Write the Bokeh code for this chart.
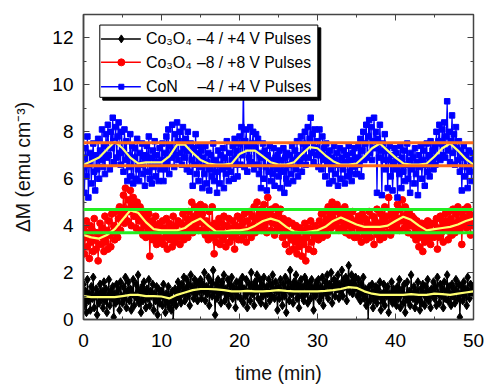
from bokeh.plotting import figure
from bokeh.models import Range1d, LinearAxis, SingleIntervalTicker, Span, CustomJSTickFormatter
from bokeh.core.properties import value
from bokeh.embed import file_html
from bokeh.resources import INLINE

# ---------------- data ----------------
con_4v = [
    6.9, 5.4, 7.3, 6.1, 7.8, 5.2, 6.6, 7.1, 5.8, 6.9, 7.5, 6.3, 5.5, 7.0, 6.4, 7.7, 6.0, 7.2, 6.8, 8.1,
    6.5, 7.4, 6.2, 7.9, 6.9, 8.3, 7.0, 6.4, 8.0, 7.3, 8.6, 6.7, 7.6, 8.2, 6.9, 7.8, 8.4, 7.1, 6.6, 8.0,
    7.2, 6.3, 8.1, 6.8, 7.6, 5.9, 7.0, 6.5, 7.9, 6.1, 7.4, 5.8, 6.9, 7.3, 6.0, 7.7, 6.4, 5.9, 7.1, 6.6,
    7.5, 6.2, 7.0, 5.7, 6.8, 7.4, 6.3, 7.8, 6.0, 6.9, 5.8, 7.2, 6.5, 7.6, 6.1, 7.0, 6.7, 5.9, 7.3, 6.4,
    6.8, 7.5, 5.9, 7.1, 6.4, 7.8, 6.7, 8.1, 6.2, 7.4, 6.9, 8.3, 7.2, 6.5, 7.9, 7.0, 8.4, 6.8, 7.6, 8.0,
    7.1, 6.6, 8.2, 7.3, 6.9, 7.7, 6.4, 8.0, 7.2, 6.3, 7.5, 6.8, 5.7, 7.3, 6.6, 7.9, 6.2, 7.1, 5.9, 7.4,
    6.5, 7.2, 5.6, 6.9, 6.2, 7.4, 5.8, 6.7, 7.1, 5.5, 6.4, 7.0, 6.1, 7.5, 5.9, 6.8, 6.3, 5.4, 7.2, 6.6,
    5.8, 7.0, 6.4, 7.3, 5.6, 6.9, 6.2, 7.6, 6.5, 5.9, 7.1, 6.3, 6.8, 7.4, 6.0, 7.7, 6.6, 7.2, 6.1, 7.5,
    7.8, 6.6, 8.2, 7.0, 10.2, 6.5, 7.6, 8.1, 6.3, 7.4, 6.9, 8.2, 6.7, 7.5, 8.0, 6.4, 7.3, 7.9, 6.6, 7.7,
    6.2, 7.1, 5.6, 6.9, 7.5, 6.0, 7.2, 6.5, 5.5, 7.0, 6.3, 7.4, 5.9, 6.8, 6.2, 7.3, 5.7, 6.9, 6.4, 7.0,
    6.1, 7.2, 5.6, 6.8, 6.3, 7.3, 5.4, 6.9, 6.0, 7.1, 5.8, 6.6, 7.0, 6.2, 7.4, 5.9, 6.8, 7.2, 6.4, 7.6,
    6.1, 7.0, 6.7, 7.8, 6.3, 7.5, 6.9, 8.0, 6.6, 7.4, 8.2, 6.9, 7.7, 8.6, 7.1, 7.9, 6.7, 8.1, 7.3, 7.0,
    7.6, 6.5, 8.1, 7.0, 6.4, 7.8, 6.8, 7.3, 6.1, 7.5, 6.7, 7.0, 5.8, 7.2, 6.4, 6.9, 5.9, 7.4, 6.2, 6.8,
    7.1, 5.7, 6.6, 7.3, 6.0, 6.9, 6.4, 7.2, 5.8, 6.7, 7.0, 6.1, 7.4, 6.3, 6.8, 5.9, 7.1, 6.5, 7.3, 6.2,
    6.9, 6.2, 7.4, 6.6, 7.7, 6.1, 7.2, 8.0, 6.8, 7.5, 8.3, 6.9, 7.8, 8.5, 7.1, 8.2, 6.8, 7.6, 8.6, 7.3,
    8.0, 5.4, 7.7, 6.9, 8.3, 7.2, 5.3, 7.5, 6.8, 7.9, 6.4, 7.2, 5.6, 6.8, 7.4, 6.1, 7.0, 5.5, 6.7, 7.3,
    6.4, 7.1, 5.2, 6.8, 6.2, 7.4, 5.6, 6.9, 6.3, 7.2, 5.9, 6.6, 7.5, 6.0, 6.8, 5.4, 7.1, 6.4, 6.9, 5.8,
    7.3, 6.2, 6.7, 5.3, 7.0, 6.5, 7.4, 6.0, 6.8, 7.2, 5.7, 6.6, 7.5, 6.3, 7.0, 6.1, 7.6, 6.7, 7.2, 6.4,
    7.4, 6.6, 8.0, 6.9, 7.6, 8.3, 6.8, 7.5, 8.1, 7.0, 8.4, 6.9, 7.8, 9.3, 7.2, 8.0, 6.7, 7.6, 8.7, 7.1,
    7.9, 6.6, 8.2, 7.3, 6.8, 7.6, 6.3, 7.2, 5.5, 6.9, 7.4, 6.1, 7.0, 6.5, 5.6, 7.2, 6.3, 6.8, 5.9, 7.1,
    6.8,
]

co3o4_8v = [
    3.9, 2.8, 3.5, 4.2, 3.1, 3.7, 2.6, 4.0, 3.3, 3.8, 2.9, 4.3, 3.4, 3.0, 3.7, 2.5, 3.6, 4.1, 3.2, 3.9,
    3.5, 2.9, 4.4, 3.3, 3.8, 3.0, 4.2, 3.6, 3.1, 4.5, 3.7, 4.0, 3.4, 4.6, 3.9, 3.5, 4.3, 4.8, 3.8, 4.4,
    4.5, 5.3, 4.1, 5.6, 4.7, 4.2, 5.1, 4.6, 5.5, 4.0, 4.9, 5.2, 4.4, 4.8, 3.9, 5.0, 4.5, 4.2, 4.8, 3.8,
    4.4, 3.6, 4.6, 4.0, 3.5, 4.3, 3.7, 4.5, 2.7, 3.9, 4.2, 3.4, 4.0, 3.6, 4.4, 3.2, 3.9, 3.5, 4.1, 3.3,
    3.8, 4.2, 3.2, 3.9, 3.5, 4.3, 3.0, 3.7, 4.1, 3.4, 3.9, 3.1, 4.4, 3.6, 3.3, 4.0, 3.5, 4.2, 3.7, 3.2,
    4.1, 3.6, 4.5, 3.4, 4.0, 3.8, 4.3, 3.5, 4.6, 3.9, 4.2, 5.0, 3.7, 4.4, 3.9, 4.8, 4.1, 4.6, 3.8, 4.3,
    4.9, 3.8, 4.5, 4.1, 4.8, 3.6, 4.2, 3.9, 3.4, 4.6, 4.0, 3.5, 4.8, 3.7, 2.8, 4.1, 3.3, 3.9, 3.6, 4.3,
    3.2, 3.8, 4.1, 3.4, 4.4, 3.6, 3.1, 4.0, 3.7, 4.3, 3.3, 3.9, 3.5, 4.2, 3.6, 3.0, 4.0, 3.7, 4.4, 3.4,
    3.9, 4.3, 3.4, 4.1, 3.6, 4.5, 3.8, 3.3, 4.2, 3.7, 4.6, 3.9, 3.5, 4.4, 4.0, 4.8, 3.7, 4.3, 5.0, 3.9,
    4.5, 4.1, 4.7, 3.8, 4.4, 4.9, 4.0, 4.6, 3.7, 5.2, 4.2, 4.5, 3.8, 4.7, 4.1, 4.4, 3.6, 4.8, 4.2, 3.9,
    4.5, 3.8, 4.7, 4.1, 3.5, 4.3, 3.9, 3.2, 4.0, 3.6, 4.2, 2.9, 3.7, 3.4, 4.1, 3.0, 3.8, 3.3, 4.0, 2.8,
    3.6, 3.1, 3.9, 3.4, 2.7, 3.8, 3.2, 4.1, 2.5, 3.5, 3.9, 3.0, 3.7, 4.2, 3.3, 3.8, 2.9, 4.0, 3.5, 3.7,
    3.9, 3.4, 4.2, 3.7, 4.5, 3.5, 4.0, 4.6, 3.8, 4.3, 3.6, 4.8, 4.1, 4.5, 3.9, 5.0, 4.3, 4.7, 4.0, 4.6,
    4.9, 4.2, 3.8, 4.7, 4.4, 3.9, 4.6, 4.1, 4.8, 3.7, 4.4, 4.0, 4.5, 3.6, 4.3, 3.9, 4.6, 4.1, 3.5, 4.2,
    4.0, 3.5, 4.4, 3.8, 4.2, 3.3, 4.5, 3.9, 3.6, 4.3, 3.4, 4.1, 3.7, 4.6, 3.5, 4.0, 3.8, 4.4, 3.2, 4.2,
    3.9, 4.7, 3.6, 4.1, 3.4, 4.5, 3.8, 4.3, 3.5, 4.8, 4.0, 4.4, 3.7, 5.2, 4.1, 3.6, 4.5, 3.9, 4.3, 3.8,
    4.6, 4.0, 4.9, 4.3, 3.8, 4.7, 4.2, 5.1, 4.4, 3.9, 4.8, 4.1, 4.5, 3.7, 4.6, 4.2, 4.0, 4.4, 3.6, 4.3,
    3.9, 3.4, 4.2, 3.7, 3.1, 4.0, 3.5, 4.1, 2.9, 3.8, 3.3, 4.0, 3.6, 4.2, 3.4, 3.9, 3.2, 4.1, 3.7, 3.5,
    4.1, 3.6, 4.3, 3.0, 3.9, 3.5, 4.4, 3.7, 4.2, 3.3, 4.0, 4.5, 3.8, 4.2, 3.4, 4.6, 3.9, 4.3, 3.6, 4.7,
    4.1, 3.7, 4.5, 3.9, 4.8, 4.2, 3.8, 4.6, 3.2, 4.4, 4.0, 4.7, 4.3, 3.9, 4.8, 4.1, 4.5, 3.6, 4.4, 4.0,
    4.3,
]

co3o4_4v = [
    1.5, 0.6, 1.2, 0.3, 1.7, 0.8, 1.1, 0.4, 1.4, 0.9, 1.8, 0.5, 1.0, 1.3, 0.2, 1.1, 0.7, 1.5, 0.9, 1.2,
    0.5, 1.6, 0.8, 1.3, 0.3, 1.0, 1.7, 0.6, 1.2, 0.9, 1.4, 0.1, 1.1, 0.7, 1.5, 0.8, 1.3, 0.4, 1.6, 1.0,
    0.7, 1.4, 0.9, 1.8, 0.5, 1.2, 1.6, 0.8, 1.3, 0.4, 1.1, 1.7, 0.6, 1.0, 1.5, 0.9, 1.9, 0.7, 1.2, 0.3,
    1.4, 0.8, 1.6, 1.1, 0.5, 1.3, 0.9, 1.7, 0.6, 1.2, 1.0, 1.5, 0.4, 1.1, 0.8, 1.4, 0.2, 1.3, 0.7, 1.0,
    1.2, 0.6, 1.5, 0.9, 0.3, 1.1, 0.7, 1.4, 0.5, 1.0, 0.4, 1.2, -0.1, 0.8, 1.3, 0.6, 1.1, 1.6, 0.9, 1.4,
    0.7, 1.5, 1.1, 1.8, 0.8, 1.3, 1.7, 1.0, 1.5, 0.6, 1.9, 1.2, 1.4, 0.9, 1.7, 1.1, 1.6, 0.8, 1.5, 1.2,
    1.7, 0.9, 1.5, 1.2, 2.0, 0.8, 1.4, 1.1, 1.8, 0.6, 1.3, 1.6, 1.0, 2.1, 1.2, 0.2, 1.5, 0.9, 1.7, 1.1,
    1.4, 0.7, 1.6, 1.2, 1.9, 0.8, 1.3, 1.0, 1.7, 0.6, 1.5, 1.1, 1.8, 0.9, 1.4, 1.2, 0.5, 1.6, 1.0, 1.3,
    1.6, 0.9, 1.4, 1.8, 0.7, 1.3, 1.0, 1.7, 0.5, 1.2, 1.5, 0.8, 2.0, 1.1, 1.4, 0.6, 1.6, 1.2, 1.9, 0.9,
    1.3, 1.7, 0.7, 1.5, 1.0, 1.8, 1.2, 0.6, 1.4, 1.1, 1.7, 0.8, 1.5, 1.0, 1.9, 1.3, 0.9, 1.6, 1.2, 0.4,
    1.4, 0.9, 1.7, 1.2, 0.6, 1.5, 1.0, 1.8, 0.3, 1.3, 1.6, 0.8, 2.1, 1.1, 1.4, 0.7, 1.6, 1.2, 1.9, 0.9,
    1.5, 0.5, 1.3, 1.7, 1.0, 1.4, 0.8, 1.8, 1.1, 1.6, 0.7, 1.3, 1.5, 0.9, 1.7, 1.2, 0.4, 1.4, 1.0, 1.6,
    1.2, 1.7, 0.8, 1.4, 1.0, 1.8, 0.6, 1.3, 1.6, 1.1, 1.9, 0.9, 1.5, 1.2, 2.0, 0.7, 1.4, 1.7, 1.0, 1.6,
    1.3, 1.9, 0.9, 1.5, 1.2, 2.1, 1.0, 1.7, 1.4, 1.8, 0.8, 1.6, 2.3, 1.2, 1.5, 1.9, 1.1, 1.7, 1.3, 1.8,
    1.4, 1.0, 1.7, 1.2, 0.8, 1.5, 1.1, 1.8, 0.9, 1.3, 0.6, 1.2, -0.1, 1.4, 0.8, 1.1, 1.5, 0.5, 1.2, 0.9,
    1.4, 0.7, 1.3, 1.0, 1.6, 0.4, 1.1, 0.8, 1.5, 0.6, 1.2, 1.0, 1.4, 0.3, 1.1, 0.9, 1.6, 0.7, 1.3, 0.8,
    1.2, 0.6, 1.4, 0.9, 1.7, 0.5, 1.1, 1.3, 0.7, 1.5, 0.3, 1.0, 1.6, 0.8, 1.2, 0.6, 1.9, 1.1, 0.9, 1.4,
    0.5, 1.2, 0.8, 1.6, 1.0, 0.4, 1.3, 0.7, 1.5, 1.1, 0.6, 1.4, 0.9, 1.7, 0.8, 1.2, 0.5, 1.3, 1.0, 1.6,
    0.9, 1.4, 0.6, 1.8, 1.1, 0.7, 1.5, 1.0, 1.3, 0.5, 1.6, 0.9, 1.2, 1.9, 0.8, 1.4, 1.1, 0.6, 1.5, 1.0,
    1.3, 0.7, 1.7, 1.2, 0.9, 1.5, 0.1, 1.1, 1.4, 0.8, 1.6, 1.0, 1.3, 0.6, 1.8, 1.2, 0.9, 1.5, 1.1, 1.4,
    1.3,
]

smooth_time = list(range(51))
con_smooth = [6.6, 6.75, 6.9, 7.25, 7.58, 7.3, 6.9, 6.65, 6.7, 6.7, 6.7, 6.95, 7.45, 7.45, 7.1, 6.8,
              6.65, 6.6, 6.6, 6.65, 7.05, 7.2, 7.2, 6.95, 6.7, 6.6, 6.6, 6.7, 7.05, 7.35, 7.3, 7.0,
              6.75, 6.6, 6.6, 6.65, 6.95, 7.3, 7.5, 7.2, 6.9, 6.65, 6.6, 6.6, 6.65, 6.95, 7.3, 7.5,
              7.2, 6.85, 6.6]
c8_smooth = [3.6, 3.5, 3.45, 3.6, 3.85, 4.25, 4.65, 4.55, 4.15, 3.85, 3.8, 3.8, 3.8, 3.9, 4.15, 4.3,
             4.0, 3.75, 3.75, 3.8, 3.8, 3.85, 4.0, 4.2, 4.3, 4.2, 3.95, 3.75, 3.7, 3.75, 3.8, 3.95,
             4.2, 4.35, 4.2, 4.05, 3.95, 3.95, 3.95, 4.0, 4.2, 4.38, 4.25, 4.0, 3.8, 3.85, 3.9, 3.95,
             4.05, 4.2, 4.3]
c4_smooth = [1.0, 0.95, 0.95, 0.95, 0.95, 1.0, 1.05, 1.05, 1.0, 1.0, 0.98, 0.9, 1.05, 1.15, 1.25, 1.3,
             1.3, 1.28, 1.25, 1.2, 1.2, 1.22, 1.2, 1.2, 1.22, 1.25, 1.22, 1.2, 1.2, 1.2, 1.2, 1.22,
             1.25, 1.3, 1.38, 1.35, 1.2, 1.1, 1.05, 1.05, 1.05, 1.05, 1.08, 1.05, 1.05, 1.1, 1.08,
             1.05, 1.1, 1.15, 1.2]

con_levels = [7.53, 6.55]
c8_levels = [4.69, 3.70]

legend_names = ["Co\u2083O\u2084", "Co\u2083O\u2084", "CoN"]
legend_pulses = ["\u20134 / +4 V Pulses", "\u20138 / +8 V Pulses", "\u20134 / +4 V Pulses"]


def sample_times(series):
    # measurements taken at a regular interval over the 50 min run
    n = len(series)
    return [50.0 * i / (n - 1) for i in range(n)]


# ---------------- figure ----------------
FONT = "Liberation Sans"
AX = "#444444"
p = figure(width=485, height=386, output_backend="svg", toolbar_location=None,
           x_range=Range1d(0, 50), y_range=Range1d(0, 13),
           min_border_left=83, min_border_right=12, min_border_top=14, min_border_bottom=59)
p.background_fill_color = "white"
p.border_fill_color = "white"
p.outline_line_color = AX
p.outline_line_width = 1.5
p.grid.visible = False

p.xaxis.ticker = SingleIntervalTicker(interval=10, num_minor_ticks=2)
p.yaxis.ticker = SingleIntervalTicker(interval=2, num_minor_ticks=2)

for ax in (p.xaxis[0], p.yaxis[0]):
    ax.axis_line_color = AX
    ax.axis_line_width = 1.5
    ax.major_tick_in = 6
    ax.major_tick_out = 0
    ax.minor_tick_in = 3
    ax.minor_tick_out = 0
    ax.major_tick_line_color = AX
    ax.minor_tick_line_color = AX
    ax.major_label_text_font = FONT
    ax.major_label_text_font_size = "19px"
    ax.major_label_text_color = "black"
    ax.axis_label_text_font = FONT
    ax.axis_label_text_font_size = "19.5px"
    ax.axis_label_text_font_style = "normal"
    ax.axis_label_text_color = "#111111"

p.xaxis.axis_label = "time (min)"
p.xaxis.major_label_standoff = 14
p.xaxis.axis_label_standoff = 12
p.yaxis.axis_label = "\u0394M (emu cm\u207b\u00b3)"
p.yaxis.major_label_standoff = 10
p.yaxis.axis_label_standoff = 15
p.axis.axis_label_text_font_style = "normal"

# mirror ticks on the right and top
for side, interval in (("right", 2), ("above", 10)):
    ax = LinearAxis(ticker=SingleIntervalTicker(interval=interval, num_minor_ticks=2),
                    formatter=CustomJSTickFormatter(code="return ''"))
    ax.major_label_standoff = 0
    ax.axis_line_color = AX
    ax.major_tick_in = 6
    ax.major_tick_out = 0
    ax.minor_tick_in = 3
    ax.minor_tick_out = 0
    ax.major_tick_line_color = AX
    ax.minor_tick_line_color = AX
    p.add_layout(ax, side)

# series
t4 = sample_times(co3o4_4v)
t8 = sample_times(co3o4_8v)
tn = sample_times(con_4v)
p.line(t4, co3o4_4v, line_color="black", line_width=1.2)
p.scatter(t4, co3o4_4v, marker="diamond", size=8.5, color="black")
p.line(t8, co3o4_8v, line_color="#ff0000", line_width=1.2)
p.scatter(t8, co3o4_8v, marker="circle", size=6.8, color="#ff0000")
p.line(tn, con_4v, line_color="#0000ff", line_width=1.2)
p.scatter(tn, con_4v, marker="square", size=5.5, color="#0000ff")

# smoothed curves
for s in (c4_smooth, c8_smooth, con_smooth):
    p.line(smooth_time, s, line_color="#ffff70", line_width=2.2)

# horizontal levels
for lv in con_levels:
    p.add_layout(Span(location=lv, dimension="width", line_color="#ff6a1a", line_width=3))
for lv in c8_levels:
    p.add_layout(Span(location=lv, dimension="width", line_color="#22ee22", line_width=3))

# legend (manual, so that subscripts and column alignment match)
shadow = p.quad(left=[2.47], right=[30.42], top=[12.43], bottom=[9.35], color="black")
box = p.quad(left=[2.09], right=[30.04], top=[12.55], bottom=[9.47], fill_color="white",
             line_color="black", line_width=1)
row_y = [11.96, 10.96, 9.92]
row_colors = ["black", "#ff0000", "#0000ff"]
row_markers = ["diamond", "circle", "square"]
row_sizes = [8, 7, 5]
rs = [shadow, box]
for yv, c, m, sz in zip(row_y, row_colors, row_markers, row_sizes):
    rs.append(p.segment(x0=[2.25], x1=[7.35], y0=[yv], y1=[yv], line_color=c, line_width=1.5))
    rs.append(p.scatter([4.85], [yv], marker=m, size=sz, color=c))
rs.append(p.text(x=[8.0, 8.0, 8.0], y=row_y, text=legend_names, text_font=value(FONT),
                 text_font_size="16px", text_baseline="middle", text_color="black"))
rs.append(p.text(x=[14.55, 14.55, 14.6], y=row_y, text=legend_pulses, text_font=value(FONT),
                 text_font_size="15.6px", text_baseline="middle", text_color="black"))
for r in rs:
    r.level = "overlay"

open("out.html", "w").write(file_html(p, INLINE))
